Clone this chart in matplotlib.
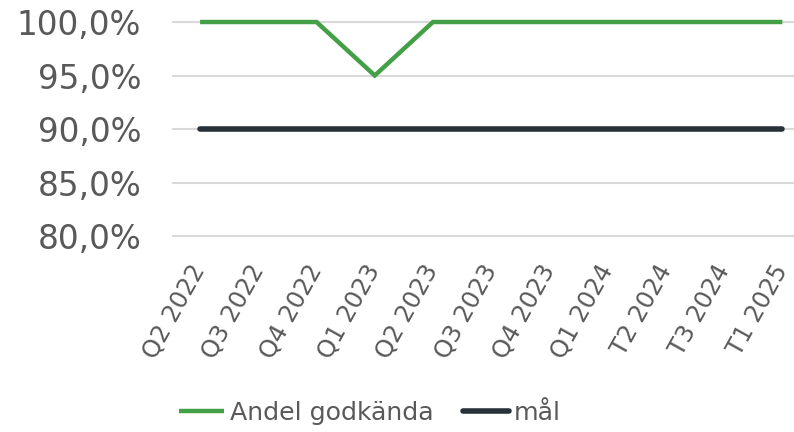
import matplotlib.pyplot as plt
from matplotlib.ticker import FuncFormatter

# ---------------------------
# Data
# ---------------------------
kvartal = ["Q2 2022", "Q3 2022", "Q4 2022", "Q1 2023", "Q2 2023", "Q3 2023",
           "Q4 2023", "Q1 2024", "T2 2024", "T3 2024", "T1 2025"]
andel_godkanda = [1.00, 1.00, 1.00, 0.95, 1.00, 1.00, 1.00, 1.00, 1.00, 1.00, 1.00]
mal = [0.90, 0.90, 0.90, 0.90, 0.90, 0.90, 0.90, 0.90, 0.90, 0.90, 0.90]
y_ticks = [0.80, 0.85, 0.90, 0.95, 1.00]

text_color = "#595959"
green = "#43A047"
dark = "#263238"

fig = plt.figure(figsize=(7.94, 4.32), dpi=100)
ax = fig.add_axes([173/794, 1 - 236/432, 1 - 173/794, 214/432])

x = range(len(kvartal))
ax.plot(x, andel_godkanda, color=green, lw=3.2, label="Andel godkända",
        solid_capstyle="butt", solid_joinstyle="miter", clip_on=False, zorder=3)
ax.plot(x, mal, color=dark, lw=4, label="mål",
        solid_capstyle="round", clip_on=False, zorder=3)

ax.set_xlim(-0.465, 10.2)
ax.set_ylim(0.80, 1.00)
ax.set_yticks(y_ticks)
ax.yaxis.set_major_formatter(FuncFormatter(lambda v, p: f"{v*100:.1f}%".replace(".", ",")))
ax.set_xticks(list(x))
ax.set_xticklabels(kvartal, rotation=61, ha="right", rotation_mode="anchor",
                   va="center")

ax.grid(axis="y", color="#D9D9D9", lw=1.5, clip_on=False)
ax.set_axisbelow(True)
for s in ax.spines.values():
    s.set_visible(False)

ax.tick_params(axis="y", length=0, labelsize=23.5, labelcolor=text_color, pad=23)
ax.tick_params(axis="x", length=0, labelsize=17.5, labelcolor=text_color, pad=22)
for lbl in ax.get_xticklabels():
    lbl.set_x(lbl.get_position()[0] - 0.05)

fig.legend(loc="center", bbox_to_anchor=(370/794, 1 - 413/432), ncol=2,
           frameon=False, fontsize=18.2, labelcolor=text_color,
           handlelength=1.8, handletextpad=0.2, columnspacing=1.2)

fig.savefig("out.png", dpi=100)
